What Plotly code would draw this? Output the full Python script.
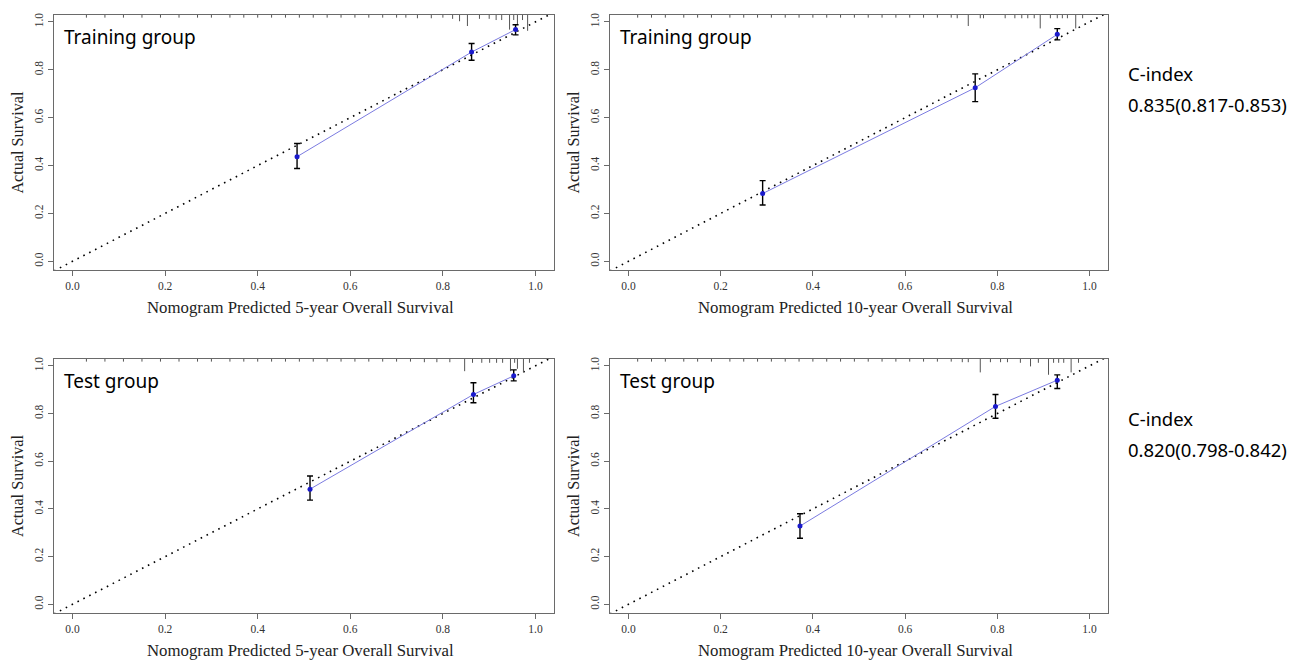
import plotly.graph_objects as go

W, H = 1303, 663

# ---------------- data ----------------
ticks = [0.0, 0.2, 0.4, 0.6, 0.8, 1.0]
tick_labels = ["0.0", "0.2", "0.4", "0.6", "0.8", "1.0"]

# Training, 5-year
tr5_pred = [0.485, 0.862, 0.957]
tr5_obs = [0.437, 0.874, 0.968]
tr5_lo = [0.388, 0.840, 0.946]
tr5_hi = [0.492, 0.910, 0.988]
tr5_rug_x = [0.03, 0.07, 0.11, 0.15, 0.19, 0.23, 0.27, 0.30, 0.34, 0.37, 0.40, 0.43, 0.46,
             0.49, 0.52, 0.55, 0.58, 0.61, 0.64, 0.67, 0.70, 0.72, 0.745, 0.775, 0.80,
             0.821, 0.836, 0.853, 0.879, 0.90, 0.915, 0.927, 0.944, 0.953, 0.961, 0.972, 0.983]
tr5_rug_n = [1, 1, 1, 1, 1, 1, 1, 1, 1, 1, 1, 1, 1,
             1, 1, 1, 1, 1, 1, 1, 1, 1, 1.5, 1.5, 1,
             2, 4, 8, 2, 2, 3, 3, 11, 3, 7, 3, 12]

# Training, 10-year
tr10_pred = [0.291, 0.752, 0.930]
tr10_obs = [0.283, 0.725, 0.948]
tr10_lo = [0.235, 0.667, 0.925]
tr10_hi = [0.337, 0.783, 0.972]
tr10_rug_x = [0.02, 0.05, 0.08, 0.12, 0.15, 0.18, 0.22, 0.25, 0.28, 0.31, 0.34, 0.37, 0.40,
              0.43, 0.46, 0.49, 0.52, 0.55, 0.58, 0.61, 0.64, 0.67, 0.70, 0.713, 0.737,
              0.763, 0.770, 0.817, 0.838, 0.853, 0.866, 0.880, 0.893, 0.915, 0.930, 0.941,
              0.952, 0.970, 0.985]
tr10_rug_n = [1, 1, 1, 1, 1, 1, 1, 1, 1, 1, 1, 1, 1,
              1, 1, 1, 1, 1, 1, 1, 1, 1, 1, 1.5, 8,
              1.5, 1.5, 1.5, 1.5, 1.5, 1.5, 1.5, 10, 1.5, 1.5, 1.5,
              1.5, 10, 1.5]

# Test, 5-year
te5_pred = [0.513, 0.866, 0.953]
te5_obs = [0.483, 0.880, 0.958]
te5_lo = [0.437, 0.845, 0.937]
te5_hi = [0.538, 0.929, 0.983]
te5_rug_x = [0.03, 0.07, 0.11, 0.15, 0.19, 0.23, 0.27, 0.30, 0.34, 0.37, 0.40, 0.43, 0.46,
             0.49, 0.52, 0.55, 0.58, 0.61, 0.64, 0.67, 0.70, 0.73, 0.76, 0.787, 0.815,
             0.847, 0.864, 0.884, 0.901, 0.916, 0.929, 0.946, 0.955, 0.961, 0.974, 0.987]
te5_rug_n = [1, 1, 1, 1, 1, 1, 1, 1, 1, 1, 1, 1, 1,
             1, 1, 1, 1, 1, 1, 1, 1, 1, 1.5, 1.5, 1.5,
             9, 2, 2, 2, 2, 2, 9, 2, 7, 10, 2]

# Test, 10-year
te10_pred = [0.372, 0.796, 0.930]
te10_obs = [0.328, 0.830, 0.940]
te10_lo = [0.277, 0.780, 0.905]
te10_hi = [0.380, 0.880, 0.962]
te10_rug_x = [0.02, 0.05, 0.08, 0.12, 0.15, 0.18, 0.22, 0.25, 0.28, 0.31, 0.34, 0.37, 0.40,
              0.43, 0.46, 0.49, 0.52, 0.55, 0.58, 0.61, 0.64, 0.67, 0.70, 0.724, 0.737,
              0.763, 0.785, 0.807, 0.822, 0.850, 0.872, 0.889, 0.911, 0.922, 0.933, 0.944,
              0.960, 0.976]
te10_rug_n = [1, 1, 1, 1, 1, 1, 1, 1, 1, 1, 1, 1, 1,
              1, 1, 1, 1, 1, 1, 1, 1, 1, 1, 1.5, 1.5,
              10, 1.5, 1.5, 1.5, 2, 5, 2, 12, 2, 2, 2,
              10, 2]

panels = [
    dict(pred=tr5_pred, obs=tr5_obs, lo=tr5_lo, hi=tr5_hi, rx=tr5_rug_x, rn=tr5_rug_n,
         label="Training group", xtitle="Nomogram Predicted 5-year Overall Survival"),
    dict(pred=tr10_pred, obs=tr10_obs, lo=tr10_lo, hi=tr10_hi, rx=tr10_rug_x, rn=tr10_rug_n,
         label="Training group", xtitle="Nomogram Predicted 10-year Overall Survival"),
    dict(pred=te5_pred, obs=te5_obs, lo=te5_lo, hi=te5_hi, rx=te5_rug_x, rn=te5_rug_n,
         label="Test group", xtitle="Nomogram Predicted 5-year Overall Survival"),
    dict(pred=te10_pred, obs=te10_obs, lo=te10_lo, hi=te10_hi, rx=te10_rug_x, rn=te10_rug_n,
         label="Test group", xtitle="Nomogram Predicted 10-year Overall Survival"),
]

cindex_title = "C-index"
cindex_train = "0.835(0.817-0.853)"
cindex_test = "0.820(0.798-0.842)"

# ---------------- layout geometry (pixels) ----------------
boxes = [  # left, right, top, bottom
    (54, 554, 13, 269),
    (610, 1108, 13, 269),
    (54, 554, 358, 613),
    (610, 1108, 358, 613),
]
XR = [-0.04, 1.04]
YR = [-0.037, 1.029]

serif = "Liberation Serif, Times New Roman, serif"
sans = "Noto Sans, Open Sans, sans-serif"

fig = go.Figure()
layout = dict(
    width=W, height=H, margin=dict(l=0, r=0, t=0, b=0),
    paper_bgcolor="white", plot_bgcolor="white", showlegend=False,
)
annotations = []

for i, (p, (l, r, t, b)) in enumerate(zip(panels, boxes)):
    n = "" if i == 0 else str(i + 1)
    xa, ya = "x" + n, "y" + n
    common = dict(
        showgrid=False, zeroline=False, showline=True, mirror=True,
        linecolor="#6a6a6a", linewidth=1, ticks="outside", ticklen=5,
        tickcolor="#6a6a6a", tickwidth=1, tickvals=ticks, ticktext=tick_labels,
        tickfont=dict(family=serif, size=11.5, color="#333333"),
    )
    layout["xaxis" + n] = dict(common, domain=[l / W, r / W], range=XR,
                               anchor=ya)
    layout["yaxis" + n] = dict(common, domain=[1 - b / H, 1 - t / H], range=YR,
                               anchor=xa, tickangle=-90)

    # ideal line
    fig.add_trace(go.Scatter(x=XR, y=XR, mode="lines", xaxis=xa, yaxis=ya,
                             line=dict(color="black", width=1.6, dash="1.6px,5px"),
                             hoverinfo="skip"))
    # rug / risk distribution along top
    ytop = YR[1]
    unit = (YR[1] - YR[0]) / (b - t)  # data units per pixel
    rxs, rys = [], []
    for xv, nv in zip(p["rx"], p["rn"]):
        rxs += [xv, xv, None]
        rys += [ytop, ytop - (nv * 1.2 + 1.5) * unit, None]
    fig.add_trace(go.Scatter(x=rxs, y=rys, mode="lines", xaxis=xa, yaxis=ya,
                             line=dict(color="#555555", width=1), hoverinfo="skip",
                             cliponaxis=False))
    # calibration line with error bars
    plus = [h - o for h, o in zip(p["hi"], p["obs"])]
    minus = [o - lo for o, lo in zip(p["obs"], p["lo"])]
    fig.add_trace(go.Scatter(
        x=p["pred"], y=p["obs"], mode="lines+markers", xaxis=xa, yaxis=ya,
        line=dict(color="#7b7be0", width=1),
        marker=dict(color="#1a1acc", size=5),
        error_y=dict(type="data", symmetric=False, array=plus, arrayminus=minus,
                     color="black", thickness=1.4, width=3),
    ))

    # panel label
    annotations.append(dict(
        text=p["label"], xref="paper", yref="paper", x=(l + 8) / W, y=1 - (t + 22) / H,
        xanchor="left", yanchor="middle", showarrow=False,
        font=dict(family=sans, size=19, color="black")))
    # x-axis title
    annotations.append(dict(
        text=p["xtitle"], xref="paper", yref="paper", x=((l + r) / 2 - 4) / W,
        y=1 - (b + 37) / H, xanchor="center", yanchor="middle", showarrow=False,
        font=dict(family=serif, size=16.8, color="#222222")))
    # y-axis title
    annotations.append(dict(
        text="Actual Survival", xref="paper", yref="paper", x=(l - 36) / W,
        y=1 - ((t + b) / 2) / H, xanchor="center", yanchor="middle", showarrow=False,
        textangle=-90, font=dict(family=serif, size=16.2, color="#222222")))

for txt, ypx in [(cindex_title, 72), (cindex_train, 103), (cindex_title, 418), (cindex_test, 449)]:
    annotations.append(dict(
        text=txt, xref="paper", yref="paper", x=1126 / W, y=1 - ypx / H,
        xanchor="left", yanchor="middle", showarrow=False,
        font=dict(family=sans, size=18.5, color="black")))

layout["annotations"] = annotations
fig.update_layout(**layout)
fig.write_html(
    "out.html",
    config={"displayModeBar": False},
    post_script="document.body.style.margin='0';document.body.style.padding='0';"
                "document.body.style.overflow='hidden';",
)
